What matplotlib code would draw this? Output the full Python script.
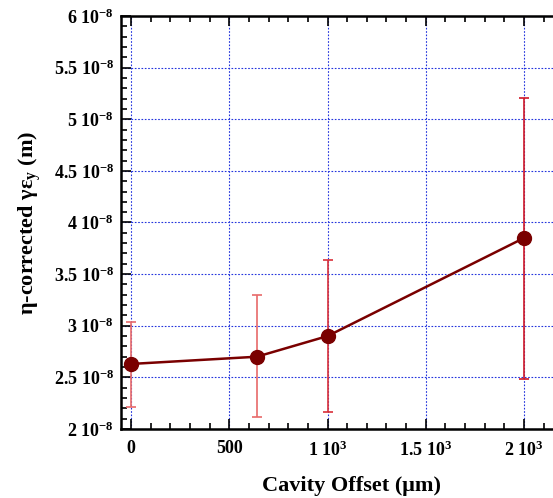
import matplotlib
matplotlib.use("Agg")
import matplotlib.pyplot as plt
from matplotlib.ticker import MultipleLocator, FuncFormatter

# data
offset_um = [0, 640, 1000, 2000]
emit_y = [2.63e-8, 2.70e-8, 2.90e-8, 3.85e-8]
err_low = [2.21e-8, 2.12e-8, 2.16e-8, 2.48e-8]
err_high = [3.04e-8, 3.30e-8, 3.64e-8, 5.21e-8]

plt.rcParams['font.family'] = ['Liberation Serif', 'DejaVu Serif']
plt.rcParams['font.weight'] = 'bold'
plt.rcParams['mathtext.fontset'] = 'custom'
plt.rcParams['mathtext.rm'] = 'Liberation Serif:bold'
plt.rcParams['mathtext.bf'] = 'Liberation Serif:bold'
plt.rcParams['mathtext.it'] = 'Liberation Serif:bold:italic'

fig = plt.figure(figsize=(5.53, 4.98), dpi=100)
# right spine lies beyond the picture edge, as in the reference
ax = fig.add_axes([121 / 553, 69 / 498, 460 / 553, 413 / 498])

# grid
ax.grid(True, which='major', color='#2233dd', linestyle=(0, (1.5, 1.5)), linewidth=0.8)
ax.set_axisbelow(True)

# error bars
bar_colors = ['#e86a6a', '#e86a6a', '#d9303a', '#d01828']
for x, y, lo, hi, c in zip(offset_um, emit_y, err_low, err_high, bar_colors):
    ax.errorbar([x], [y], yerr=[[y - lo], [hi - y]], fmt='none', ecolor=c,
                elinewidth=1.2, capsize=3.5, capthick=1.2, zorder=3)

ax.plot(offset_um, emit_y, color='#7a0000', linewidth=1.8, marker='o',
        markersize=10, zorder=4)

ax.set_xlim(-51, 2290)
ax.set_ylim(2e-8, 6e-8)

ax.xaxis.set_major_locator(MultipleLocator(500))
ax.xaxis.set_minor_locator(MultipleLocator(100))
ax.yaxis.set_major_locator(MultipleLocator(0.5e-8))
ax.yaxis.set_minor_locator(MultipleLocator(0.1e-8))


def fmt_x(v, pos):
    if abs(v) < 1e-9:
        return '0'
    if v < 1000:
        return '%d' % v
    return ('%g' % (v / 1000)) + r' 10$^{3}$'


def fmt_y(v, pos):
    return ('%g' % round(v / 1e-8, 2)) + r' 10$^{-8}$'


ax.xaxis.set_major_formatter(FuncFormatter(fmt_x))
ax.yaxis.set_major_formatter(FuncFormatter(fmt_y))

ax.tick_params(which='both', direction='in', top=True, right=True, width=1.2)
ax.tick_params(which='major', length=7, labelsize=13)
ax.tick_params(axis='y', which='major', pad=5)
ax.tick_params(axis='x', which='major', pad=8)
ax.tick_params(which='minor', length=4)
for sp in ax.spines.values():
    sp.set_linewidth(1.8)

ax.set_xlabel('Cavity Offset (μm)', fontsize=16, fontweight='bold', labelpad=12)
ax.set_ylabel(r'η-corrected γε$_{\mathrm{y}}$ (m)', fontsize=16, fontweight='bold', labelpad=8)

fig.savefig('out.png', dpi=100)
